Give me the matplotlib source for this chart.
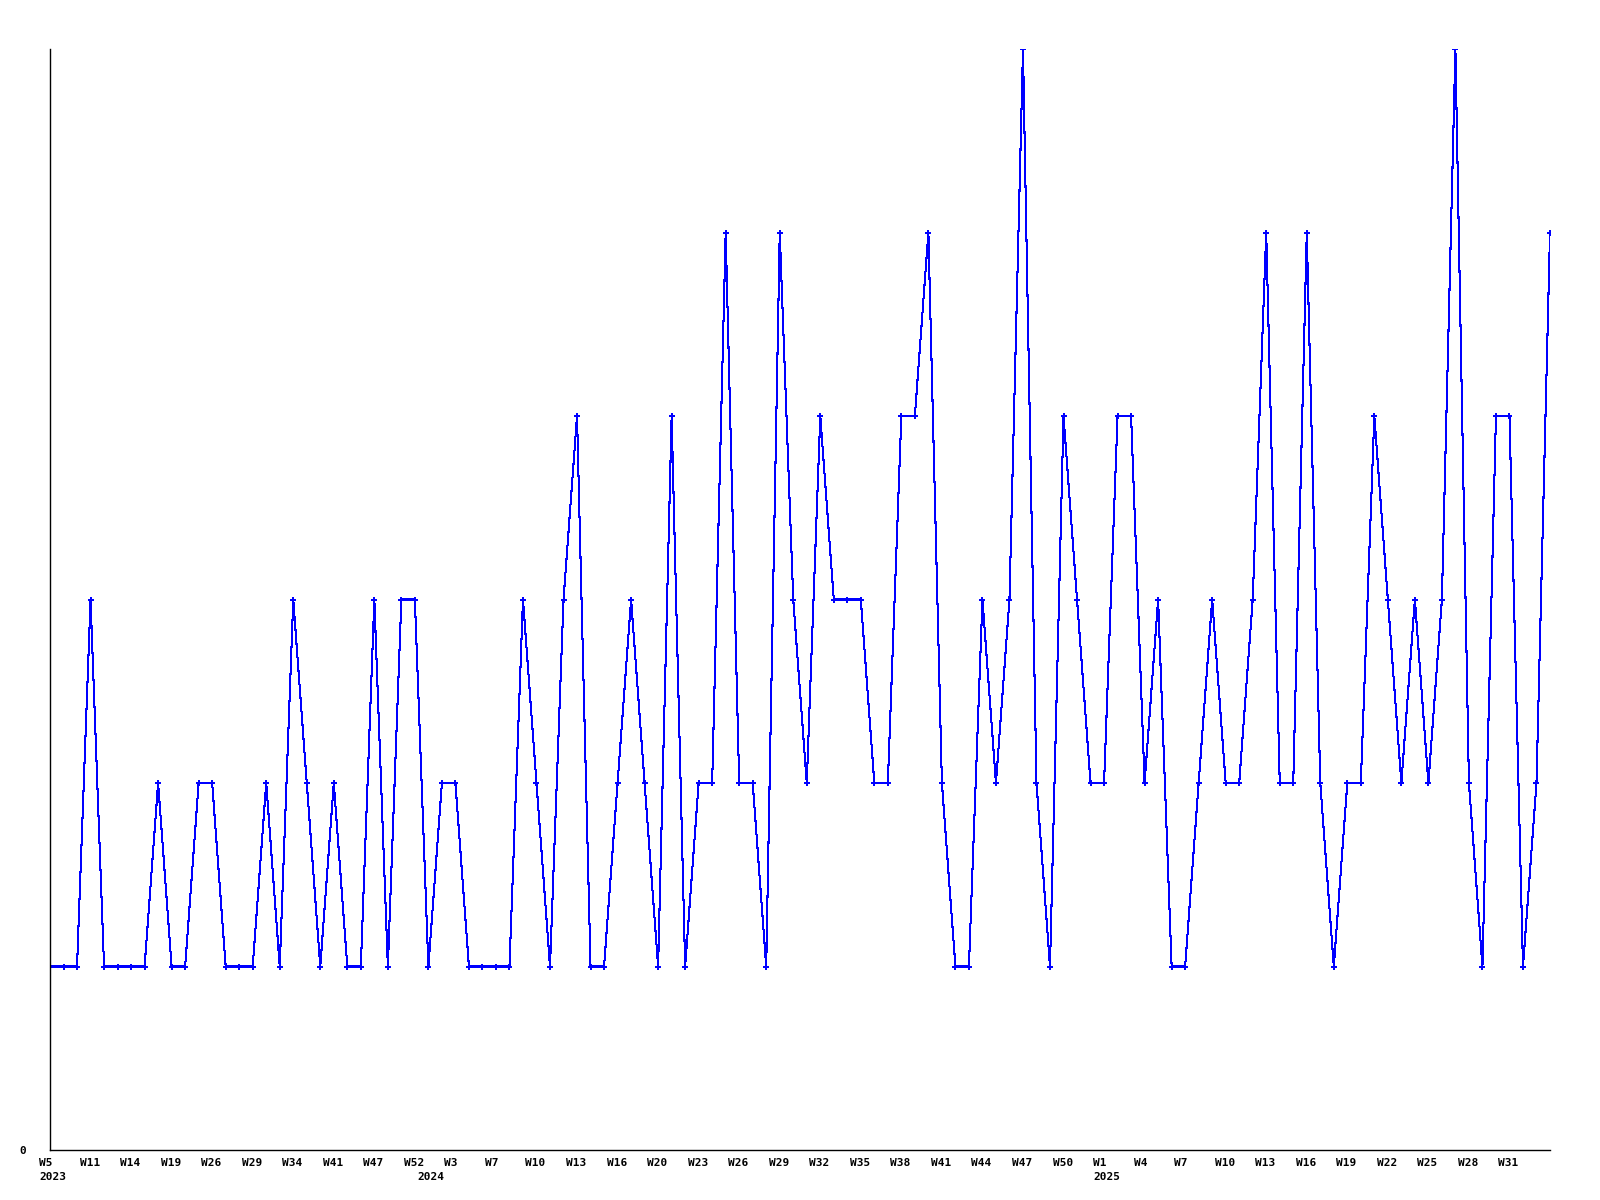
import matplotlib
matplotlib.use("Agg")
import matplotlib.pyplot as plt
import matplotlib.transforms as mtransforms

# ***** DATA *****
# weekly counts, one point per week (categorical x axis)
values = [1, 1, 1, 3, 1, 1, 1, 1, 2, 1, 1, 2, 2, 1, 1, 1, 2, 1, 3, 2,
          1, 2, 1, 1, 3, 1, 3, 3, 1, 2, 2, 1, 1, 1, 1, 3, 2, 1, 3, 4,
          1, 1, 2, 3, 2, 1, 4, 1, 2, 2, 5, 2, 2, 1, 5, 3, 2, 4, 3, 3,
          3, 2, 2, 4, 4, 5, 2, 1, 1, 3, 2, 3, 6, 2, 1, 4, 3, 2, 2, 4,
          4, 2, 3, 1, 1, 2, 3, 2, 2, 3, 5, 2, 2, 5, 2, 1, 2, 2, 4, 3,
          2, 3, 2, 3, 6, 2, 1, 4, 4, 1, 2, 5]

# labels shown on every third week
week_labels = ["W5", "W11", "W14", "W19", "W26", "W29", "W34", "W41", "W47", "W52",
               "W3", "W7", "W10", "W13", "W16", "W20", "W23", "W26", "W29", "W32",
               "W35", "W38", "W41", "W44", "W47", "W50", "W1", "W4", "W7", "W10",
               "W13", "W16", "W19", "W22", "W25", "W28", "W31"]

# year label sits under the first week of that year
years = ["2023", "2024", "2025"]
year_start_index = [0, 28, 78]

# ***** PLOT *****
fig = plt.figure(figsize=(16, 12), dpi=100)
ax = fig.add_axes([50 / 1600, 50 / 1200, 1500 / 1600, 1101 / 1200])

x = list(range(len(values)))
ax.plot(x, values, color="#0000ff", linewidth=0.75, marker="P",
        markersize=3.8, markeredgewidth=0, antialiased=False)

ax.set_xlim(0, len(values) - 1)
ax.set_ylim(0, max(values))

font = dict(family="DejaVu Sans Mono", weight="bold", size=8)

ax.set_yticks([0])
ax.set_yticklabels(["0"], **font)
ax.tick_params(axis="y", length=0, pad=17)

ax.set_xticks(range(0, len(values), 3)[:len(week_labels)])
ax.set_xticklabels(week_labels, ha="left", **font)
ax.tick_params(axis="x", length=0, pad=5.5)
shift = mtransforms.ScaledTranslation(-11 / 100, 0, fig.dpi_scale_trans)
for lab in ax.get_xticklabels():
    lab.set_transform(lab.get_transform() + shift)

# year labels one line below the week labels
year_trans = ax.get_xaxis_transform() + shift
for idx, yr in zip(year_start_index, years):
    ax.text(idx, 0, yr, transform=year_trans + mtransforms.ScaledTranslation(0, -22 / 100, fig.dpi_scale_trans),
            ha="left", va="top", **font)

for side in ["top", "right"]:
    ax.spines[side].set_visible(False)
for side in ["left", "bottom"]:
    ax.spines[side].set_color("black")
    ax.spines[side].set_linewidth(1)

fig.savefig("out.png", dpi=100, facecolor="white")
